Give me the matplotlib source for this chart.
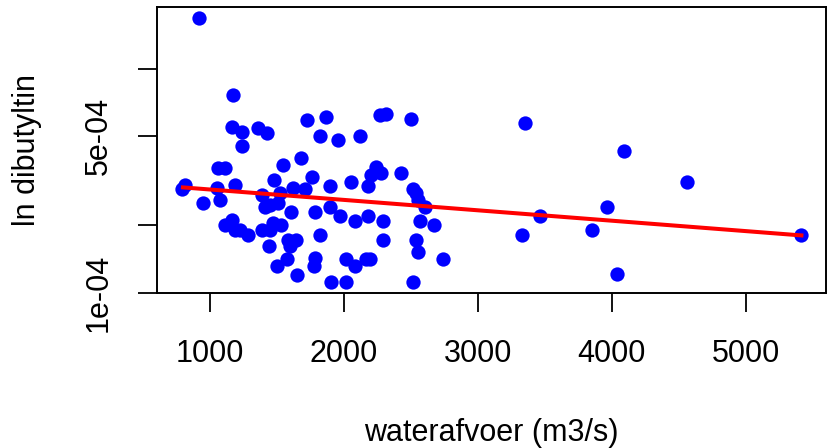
import numpy as np
import matplotlib
matplotlib.use("Agg")
import matplotlib.pyplot as plt

plt.rcParams['font.family'] = ['Liberation Sans', 'DejaVu Sans']

# waterafvoer (m3/s) en dibutyltin
afvoer = [916, 1171, 1164, 1238, 1238, 1363, 1424, 1727, 1871, 1821,
          1958, 2124, 2268, 2313, 2504, 1065, 1114, 814, 792, 1052,
          1188, 953, 1077, 1549, 1678, 1479, 1760, 1896, 2052, 2182,
          2206, 2243, 2281, 2424, 1623, 1710, 1387, 1523, 1412, 1449,
          1512, 1603, 1784, 1896, 1970, 2087, 2182, 2293, 2517, 2541,
          2554, 2603, 2566, 2673, 1114, 1164, 1188, 1226, 1288, 1387,
          1449, 1474, 1529, 1586, 1640, 1598, 1445, 1826, 2293, 2541,
          2554, 2740, 1573, 1499, 1784, 1777, 1653, 2020, 2087, 2169,
          2199, 1908, 2020, 2517, 3355, 4092, 4559, 3964, 3467, 3328,
          3854, 4038, 5415]
dbt = [1.69e-3, 7.67e-4, 5.50e-4, 5.23e-4, 4.53e-4, 5.41e-4, 5.17e-4, 5.93e-4, 6.10e-4, 5.02e-4,
       4.79e-4, 5.02e-4, 6.20e-4, 6.31e-4, 5.97e-4, 3.61e-4, 3.61e-4, 3.03e-4, 2.90e-4, 2.92e-4,
       3.03e-4, 2.51e-4, 2.60e-4, 3.72e-4, 4.00e-4, 3.19e-4, 3.30e-4, 3.00e-4, 3.13e-4, 3.00e-4,
       3.35e-4, 3.65e-4, 3.43e-4, 3.43e-4, 2.92e-4, 2.89e-4, 2.73e-4, 2.78e-4, 2.42e-4, 2.47e-4,
       2.51e-4, 2.30e-4, 2.30e-4, 2.42e-4, 2.20e-4, 2.08e-4, 2.20e-4, 2.08e-4, 2.89e-4, 2.78e-4,
       2.60e-4, 2.42e-4, 2.08e-4, 2.01e-4, 2.01e-4, 2.11e-4, 1.91e-4, 1.91e-4, 1.81e-4, 1.91e-4,
       1.91e-4, 2.04e-4, 2.01e-4, 1.72e-4, 1.72e-4, 1.61e-4, 1.61e-4, 1.80e-4, 1.71e-4, 1.72e-4,
       1.51e-4, 1.41e-4, 1.41e-4, 1.31e-4, 1.43e-4, 1.31e-4, 1.20e-4, 1.41e-4, 1.31e-4, 1.41e-4,
       1.41e-4, 1.11e-4, 1.11e-4, 1.11e-4, 5.70e-4, 4.29e-4, 3.12e-4, 2.41e-4, 2.20e-4, 1.80e-4,
       1.91e-4, 1.21e-4, 1.81e-4]

# regressielijn (begin- en eindpunt)
lijn_x = [800, 5415]
lijn_y = [2.95e-4, 1.80e-4]

xticks = [1000, 2000, 3000, 4000, 5000]
yticks = [1e-4, 2e-4, 5e-4, 1e-3]
ylabels = ['1e-04', '', '5e-04', '']

fig = plt.figure(figsize=(8.27, 4.48), dpi=100)
ax = fig.add_axes([0.190, 0.346, 0.809, 0.638])

ax.plot(afvoer, dbt, 'o', color='#0000ff', markersize=10.3, markeredgewidth=0)
ax.plot(lijn_x, lijn_y, color='#ff0000', linewidth=2.9)

ax.set_yscale('log')

# limieten zoals R: 4% extra ruimte
xmin, xmax = min(afvoer), max(afvoer)
dx = (xmax - xmin) * 0.04
ax.set_xlim(xmin - dx, xmax + dx)
lmin, lmax = np.log10(min(dbt)), np.log10(max(dbt))
dl = (lmax - lmin) * 0.04
ax.set_ylim(10 ** (lmin - dl), 10 ** (lmax + dl))

ax.set_xticks(xticks)
ax.set_xticklabels([str(t) for t in xticks], fontsize=22)
ax.yaxis.set_minor_locator(matplotlib.ticker.NullLocator())
ax.set_yticks(yticks)
ax.set_yticklabels(ylabels, fontsize=22, rotation=90, va='center')
ax.tick_params(axis='both', length=14, width=1.3, color='black')
ax.tick_params(axis='x', pad=19)
ax.tick_params(axis='y', pad=17)

for s in ax.spines.values():
    s.set_linewidth(1.4)

ax.set_xlabel('waterafvoer (m3/s)', fontsize=22)
ax.set_ylabel('ln dibutyltin', fontsize=22)
ax.xaxis.set_label_coords(0.5, -0.437)
ax.yaxis.set_label_coords(-0.172, 0.5)

fig.savefig('out.png', dpi=100)
